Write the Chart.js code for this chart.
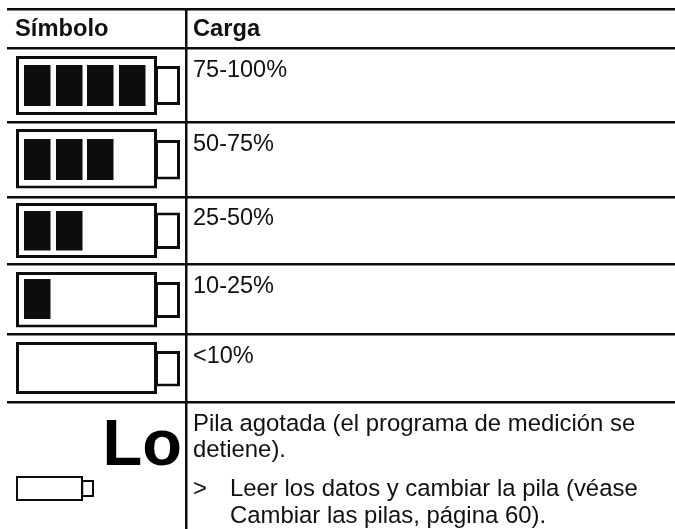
<!DOCTYPE html>
<html>
<head>
<meta charset="utf-8">
<style>
  html, body { margin: 0; padding: 0; background: #fff; }
  canvas { display: block; }
</style>
<script src="https://cdn.jsdelivr.net/npm/chart.js@4/dist/chart.umd.min.js"></script>
</head>
<body>
<canvas id="batteryChart" width="675" height="529"></canvas>
<script>
// data
const headers = ['Símbolo', 'Carga'];
const chargeLabels = ['75-100%', '50-75%', '25-50%', '10-25%', '<10%'];
const filledCells = [4, 3, 2, 1, 0];
const lowSymbol = 'Lo';
const lowNote = ['Pila agotada (el programa de medición se', 'detiene).'];
const lowAction = ['Leer los datos y cambiar la pila (véase', 'Cambiar las pilas, página 60).'];

// layout, axis units are page pixels
const rowLines = [9, 48.5, 122.5, 197, 264, 334.5, 402.5];
const columnLine = 186;
const bodyTop = [56, 129, 203, 272, 342];
const bodyBottom = [115, 188.5, 258, 327.5, 394];
const capTop = [66, 140, 212.5, 282, 351];
const capBottom = [105, 179.5, 249, 318, 386.5];
const cellTop = [65, 139, 211, 279, 0];
const cellBottom = [106, 180, 250.5, 319, 0];
const cellLeft = [24, 56, 87, 119];
const cellWidth = 26.5;
const labelBaselines = [77, 150.5, 225, 293, 363];

const INK = '#0c0d0c';

function box(left, right, top, bottom, fill, border, order) {
    return {
        data: [{ x: [left, right], y: (top + bottom) / 2 }],
        barThickness: bottom - top,
        backgroundColor: fill,
        borderColor: INK,
        borderWidth: border,
        borderSkipped: false,
        inflateAmount: 0,
        grouped: false,
        order: order
    };
}

const datasets = [];
chargeLabels.forEach((label, r) => {
    for (let c = 0; c < filledCells[r]; c++) {
        datasets.push(box(cellLeft[c], cellLeft[c] + cellWidth, cellTop[r], cellBottom[r], INK, 0, 1));
    }
    datasets.push(box(16, 157, bodyTop[r], bodyBottom[r], '#fff', 3, 2));
    datasets.push(box(155, 180, capTop[r], capBottom[r], '#fff', 3, 3));
});
// small empty battery in the last row
datasets.push(box(16, 83, 476, 501, '#fff', 2, 2));
datasets.push(box(81.5, 94, 480, 497, '#fff', 2, 3));

const tablePlugin = {
    id: 'tableText',
    afterDraw(chart) {
        const { ctx, scales: { x, y } } = chart;
        const put = (text, px, py, font) => {
            ctx.font = font;
            ctx.fillText(text, x.getPixelForValue(px), y.getPixelForValue(py));
        };
        const regular = '23.5px "Liberation Sans", Arial, sans-serif';
        const note = '23.9px "Liberation Sans", Arial, sans-serif';
        const bold = 'bold 23.7px "Liberation Sans", Arial, sans-serif';
        ctx.save();
        ctx.fillStyle = '#111';
        ctx.textBaseline = 'alphabetic';
        put(headers[0], 15, 36, bold);
        put(headers[1], 193, 36, bold);
        chargeLabels.forEach((label, r) => put(label, 193, labelBaselines[r], regular));
        ctx.fillStyle = '#000';
        put(lowSymbol, 102.5, 465, 'bold 65px "Liberation Sans", Arial, sans-serif');
        ctx.fillStyle = '#111';
        put(lowNote[0], 193, 431, note);
        put(lowNote[1], 193, 457, note);
        put('>', 193, 496, note);
        put(lowAction[0], 230, 496, note);
        put(lowAction[1], 230, 523, note);
        ctx.restore();
    }
};

new Chart(document.getElementById('batteryChart').getContext('2d'), {
    type: 'bar',
    data: { datasets: datasets },
    plugins: [tablePlugin],
    options: {
        indexAxis: 'y',
        responsive: false,
        animation: false,
        layout: { padding: { left: 7, top: 9 } },
        plugins: { legend: { display: false }, tooltip: { enabled: false } },
        scales: {
            x: {
                type: 'linear',
                min: 7,
                max: 675,
                afterBuildTicks: scale => { scale.ticks = [{ value: columnLine }]; },
                ticks: { display: false },
                grid: { color: INK, lineWidth: 2.5, drawTicks: false },
                border: { display: false }
            },
            y: {
                type: 'linear',
                reverse: true,
                offset: false,
                min: 9,
                max: 529,
                afterBuildTicks: scale => { scale.ticks = rowLines.map(v => ({ value: v })); },
                ticks: { display: false },
                grid: { color: INK, lineWidth: 2.5, drawTicks: false, offset: false },
                border: { display: false }
            }
        }
    }
});
</script>
</body>
</html>
